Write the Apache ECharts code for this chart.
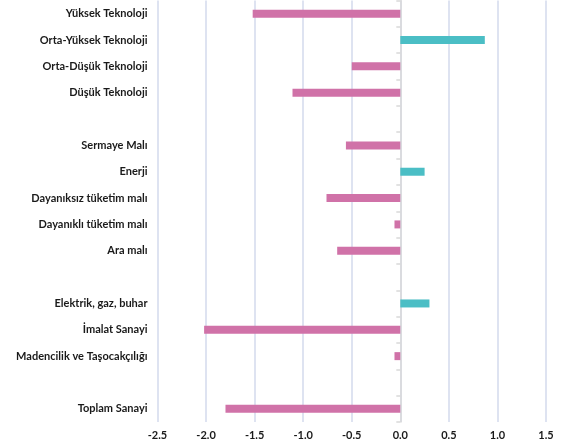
<!DOCTYPE html>
<html>
<head>
<meta charset="utf-8">
<script src="https://cdn.jsdelivr.net/npm/echarts@6/dist/echarts.min.js"></script>
<style>html,body{margin:0;padding:0;background:#fff;}#c{width:569px;height:448px;}</style>
</head>
<body>
<div id="c"></div>
<script>
const categories = [
  'Yüksek Teknoloji', 'Orta-Yüksek Teknoloji', 'Orta-Düşük Teknoloji', 'Düşük Teknoloji', '',
  'Sermaye Malı', 'Enerji', 'Dayanıksız tüketim malı', 'Dayanıklı tüketim malı', 'Ara malı', '',
  'Elektrik, gaz, buhar', 'İmalat Sanayi', 'Madencilik ve Taşocakçılığı', '',
  'Toplam Sanayi'
];
const values = [
  -1.52, 0.87, -0.50, -1.11, null,
  -0.56, 0.25, -0.76, -0.06, -0.65, null,
  0.30, -2.02, -0.06, null,
  -1.80
];
const xTicks = { min: -2.5, max: 1.5, interval: 0.5 };

const chart = echarts.init(document.getElementById('c'), null, { renderer: 'canvas' });
chart.setOption({
  animation: false,
  backgroundColor: '#fff',
  grid: { left: 157.5, right: 23, top: 0.5, bottom: 26, containLabel: false },
  xAxis: {
    type: 'value',
    min: xTicks.min, max: xTicks.max, interval: xTicks.interval,
    axisLine: { show: false },
    axisTick: { show: false },
    splitLine: { show: true, lineStyle: { color: '#D3DAEC', width: 1.5 } },
    axisLabel: {
      color: '#1a1a1a', fontSize: 11, fontWeight: 'bold', fontFamily: 'Lato', margin: 8,
      formatter: v => v.toFixed(1)
    }
  },
  yAxis: [
    {
      type: 'category', inverse: true, data: categories,
      axisLine: { show: false, onZero: false },
      axisTick: { show: false },
      axisLabel: { color: '#1a1a1a', fontSize: 11, fontWeight: 'bold', fontFamily: 'Lato', margin: 10 }
    },
    {
      type: 'category', inverse: true, data: categories,
      axisLine: { show: true, onZero: true, lineStyle: { color: '#D9D9D9', width: 1.5 } },
      axisTick: { show: true, inside: true, length: 4, lineStyle: { color: '#D9D9D9', width: 1.5 } },
      axisLabel: { show: false }
    }
  ],
  series: [{
    type: 'bar',
    yAxisIndex: 0,
    data: values,
    barWidth: 8,
    itemStyle: { color: p => (p.value >= 0 ? '#4BBEC5' : '#D072A8') }
  }]
});
</script>
</body>
</html>
